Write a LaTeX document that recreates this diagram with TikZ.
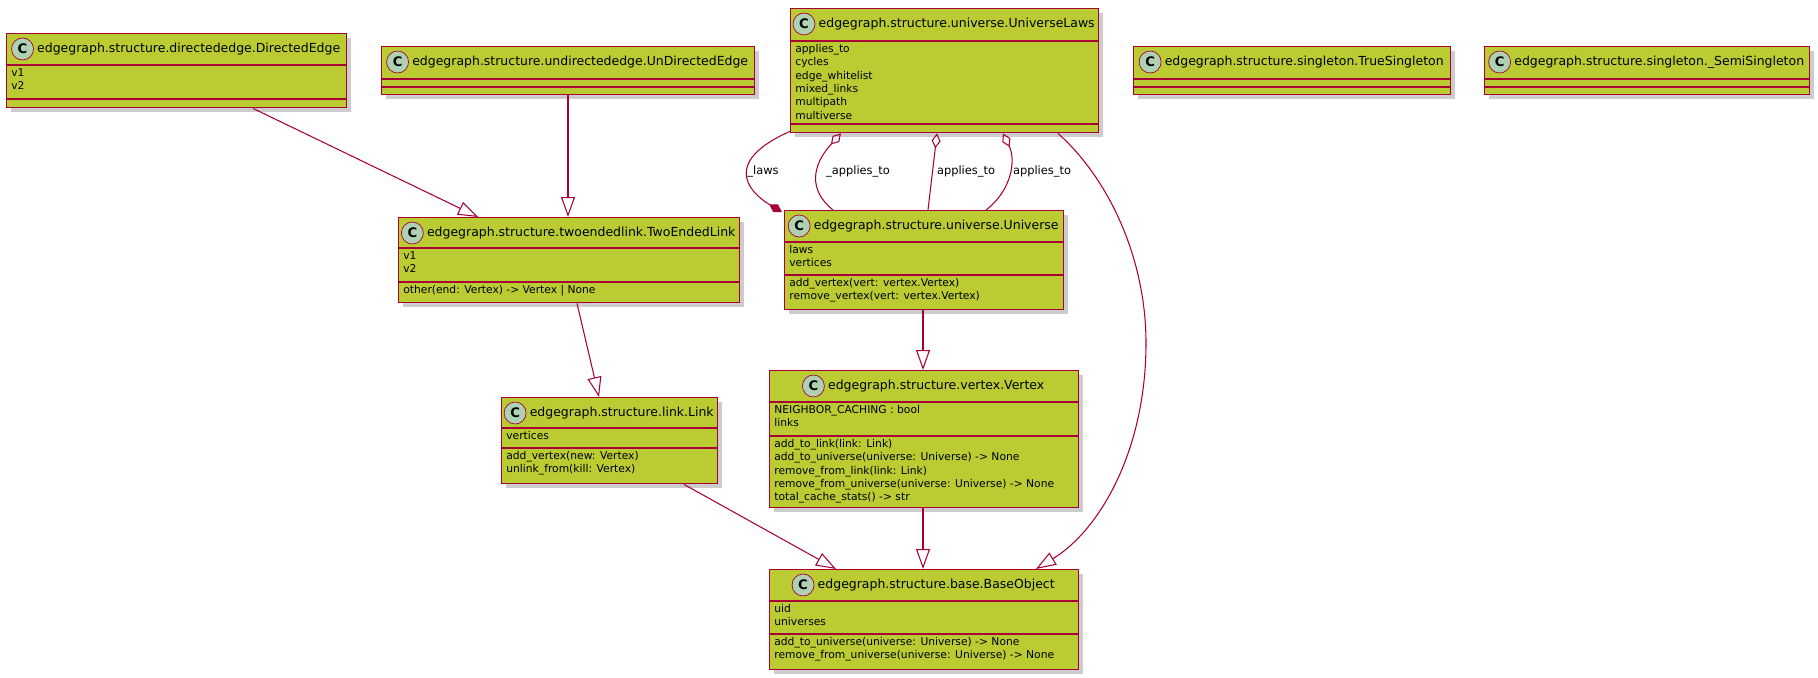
\documentclass[tikz,border=0pt]{standalone}
\usepackage{fontspec}
\setmainfont{DejaVu Sans}
\usetikzlibrary{calc,positioning,shadows,arrows.meta}

\definecolor{umlred}{RGB}{168,0,54}
\definecolor{umlfill}{RGB}{187,204,51}
\definecolor{umlicon}{RGB}{173,209,178}

\tikzset{
    classbox/.style={draw=umlred, fill=umlfill, line width=0.8pt, inner sep=0pt,
        drop shadow={fill=black!40, opacity=0.5, shadow xshift=0.08cm, shadow yshift=-0.08cm}},
    classline/.style={draw=umlred, line width=0.8pt},
    classicon/.style={circle, draw=umlred, fill=umlicon, inner sep=0pt, minimum size=0.44cm,
        font=\fontsize{7.5}{8}\selectfont\bfseries},
    titletext/.style={inner sep=0pt, font=\fontsize{7.1}{8}\selectfont},
    membertext/.style={inner sep=0pt, align=left, anchor=north west, font=\fontsize{6.1}{7.6}\selectfont},
    edgelabel/.style={inner sep=0pt, font=\fontsize{6.5}{8}\selectfont},
    extends/.style={draw=umlred, line width=0.6pt, -{Triangle[open, length=0.4cm, width=0.28cm]}},
    aggregates/.style={draw=umlred, line width=0.6pt, {Diamond[open, length=0.3cm, width=0.18cm]}-},
    composes/.style={draw=umlred, line width=0.6pt, -{Diamond[length=0.3cm, width=0.18cm]}}
}

% name, top-left, width, height, first divider, second divider, title, fields, methods
\newcommand\umlclass[9]{
    \node[classbox, anchor=north west, minimum width=#3*0.02cm, minimum height=#4*0.02cm] (#1) at (#2) {};
    \draw[classline] ($(#1.north west)+(0,#5)$) -- ($(#1.north east)+(0,#5)$);
    \draw[classline] ($(#1.north west)+(0,#6)$) -- ($(#1.north east)+(0,#6)$);
    \node[titletext] (#1-t) at ($(#1.north)+(12,16)$) {#7};
    \node[classicon, left=0.06cm of #1-t] (#1-c) {C};
    \node[membertext] (#1-f) at ($(#1.north west)+(5,#5+3)$) {#8};
    \node[membertext] (#1-m) at ($(#1.north west)+(5,#6+3)$) {#9};
}

\begin{document}
\begin{tikzpicture}[x=0.02cm, y=-0.02cm]

    \useasboundingbox (0,0) rectangle (1818,678);

    % Classes
    \umlclass{dedge}{6,33}{340}{74}{32}{66}{edgegraph.structure.directededge.DirectedEdge}{v1\\v2}{}
    \umlclass{uedge}{381,46}{373}{48}{33}{41}{edgegraph.structure.undirectededge.UnDirectedEdge}{}{}
    \umlclass{laws}{790,8}{308}{124}{33}{116}{edgegraph.structure.universe.UniverseLaws}{applies\_to\\cycles\\edge\_whitelist\\mixed\_links\\multipath\\multiverse}{}
    \umlclass{truesing}{1133,46}{317}{48}{33}{41}{edgegraph.structure.singleton.TrueSingleton}{}{}
    \umlclass{semising}{1484,46}{325}{48}{33}{41}{edgegraph.structure.singleton.\_SemiSingleton}{}{}
    \umlclass{tel}{398,217}{341}{85}{31}{65}{edgegraph.structure.twoendedlink.TwoEndedLink}{v1\\v2}{other(end: Vertex) -> Vertex | None}
    \umlclass{univ}{784,210}{279}{99}{32}{65}{edgegraph.structure.universe.Universe}{laws\\vertices}{add\_vertex(vert: vertex.Vertex)\\remove\_vertex(vert: vertex.Vertex)}
    \umlclass{link}{501,397}{216}{86}{31}{51}{edgegraph.structure.link.Link}{vertices}{add\_vertex(new: Vertex)\\unlink\_from(kill: Vertex)}
    \umlclass{vertex}{769,370}{309}{137}{32}{66}{edgegraph.structure.vertex.Vertex}{NEIGHBOR\_CACHING : bool\\links}{add\_to\_link(link: Link)\\add\_to\_universe(universe: Universe) -> None\\remove\_from\_link(link: Link)\\remove\_from\_universe(universe: Universe) -> None\\total\_cache\_stats() -> str}
    \umlclass{base}{769,569}{309}{100}{32}{65}{edgegraph.structure.base.BaseObject}{uid\\universes}{add\_to\_universe(universe: Universe) -> None\\remove\_from\_universe(universe: Universe) -> None}

    % Inheritance
    \draw[extends] ($(dedge.south west)+(247,0)$) -- ($(tel.north west)+(80,0)$);
    \draw[extends] ($(uedge.south west)+(187,0)$) -- ($(tel.north west)+(170,0)$);
    \draw[extends] ($(tel.south west)+(179,0)$) -- ($(link.north west)+(98,0)$);
    \draw[extends] ($(link.south west)+(183,0)$) -- ($(base.north west)+(67,0)$);
    \draw[extends] ($(univ.south west)+(139,0)$) -- ($(vertex.north west)+(154,0)$);
    \draw[extends] ($(vertex.south west)+(154,0)$) -- ($(base.north west)+(154,0)$);
    \draw[extends] ($(laws.south west)+(268,0)$) .. controls (1110,180) and (1146,260) .. (1146,343)
        .. controls (1146,450) and (1100,530) .. ($(base.north west)+(267,0)$);

    % Associations
    \draw[composes] ($(laws.south west)+(0,-2)$) .. controls (725,160) and (745,190) .. ($(univ.north west)+(-2,2)$);
    \node[edgelabel] (lbl-laws) at (763,172) {\_laws};
    \draw[aggregates] ($(laws.south west)+(51,0)$) .. controls (812,165) and (808,190) .. ($(univ.north west)+(49,0)$);
    \node[edgelabel] (lbl-app1) at (858,172) {\_applies\_to};
    \draw[aggregates] ($(laws.south west)+(147,0)$) -- ($(univ.north west)+(144,0)$);
    \node[edgelabel] (lbl-app2) at (966,172) {applies\_to};
    \draw[aggregates] ($(laws.south west)+(213,0)$) .. controls (1016,160) and (1012,190) .. ($(univ.north west)+(202,0)$);
    \node[edgelabel] (lbl-app3) at (1042,172) {applies\_to};

\end{tikzpicture}
\end{document}
